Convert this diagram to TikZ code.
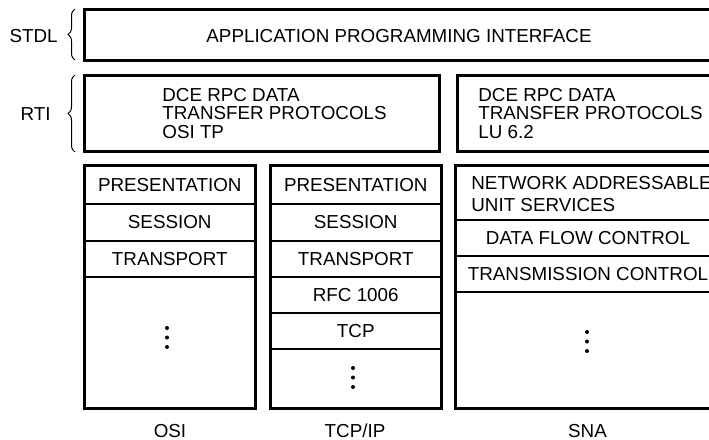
\documentclass[tikz,border=0pt]{standalone}
\usepackage{fontspec}
\setmainfont{Liberation Sans}
\usetikzlibrary{fit,decorations.pathreplacing}

\tikzset{
  frame/.style={draw, line width=1.5pt, inner sep=0pt, rectangle},
  layer/.style={draw, line width=1pt, inner sep=0pt, rectangle},
  txt/.style={font=\fontsize{9.4}{11}\selectfont, inner sep=0pt, text height=6.73pt, text depth=0pt},
  para/.style={font=\fontsize{9.4}{9.15}\selectfont, inner sep=0pt, align=left, anchor=west},
  dot/.style={circle, fill, inner sep=0pt, minimum size=2pt},
  bracket/.style={decorate, decoration={brace, amplitude=3.5pt}, line width=0.5pt}
}

\begin{document}
\begin{tikzpicture}[x=0.5pt, y=-0.5pt]
\clip (0,0) rectangle (709,440);

% top layers
\node[frame, fit={(84.5,9.5)(718,60)}] (api) {};
\node[txt] (apitxt) at (399,36) {APPLICATION PROGRAMMING INTERFACE};

\node[frame, fit={(84.5,75)(439,151.5)}] (rtiA) {};
\node[para] (rtiAtxt) at (162,113.5) {DCE RPC DATA\\TRANSFER PROTOCOLS\\OSI TP};
\node[frame, fit={(457,75)(720,151.5)}] (rtiB) {};
\node[para] (rtiBtxt) at (478,113.5) {DCE RPC DATA\\TRANSFER PROTOCOLS\\LU 6.2};

% braces and their labels
\coordinate (stdlLo) at (75,60);
\coordinate (stdlHi) at (75,9);
\coordinate (rtiLo) at (75,152);
\coordinate (rtiHi) at (75,75);
\draw[bracket] (stdlLo) -- (stdlHi);
\draw[bracket] (rtiLo) -- (rtiHi);
\node[txt, anchor=east] (stdl) at (58,36) {STDL};
\node[txt, anchor=east] (rti) at (51,113.5) {RTI};

% OSI stack
\node[layer, fit={(84.5,165.5)(255,204)}] (osiP) {};
\node[layer, fit={(84.5,204)(255,240.5)}] (osiS) {};
\node[layer, fit={(84.5,240.5)(255,277)}] (osiT) {};
\node[frame, fit={(84.5,165.5)(255,408.5)}] (osi) {};
\node[txt] at (osiP.center) {PRESENTATION};
\node[txt] at (osiS.center) {SESSION};
\node[txt] at (osiT.center) {TRANSPORT};
\node[dot] (osiD1) at (167,328) {};
\node[dot] (osiD2) at (167,337.5) {};
\node[dot] (osiD3) at (167,347) {};
\node[txt] (osiname) at (170,431) {OSI};

% TCP/IP stack
\node[layer, fit={(270,165.5)(441.5,204)}] (tcpP) {};
\node[layer, fit={(270,204)(441.5,240.5)}] (tcpS) {};
\node[layer, fit={(270,240.5)(441.5,277)}] (tcpT) {};
\node[layer, fit={(270,277)(441.5,313)}] (tcpR) {};
\node[layer, fit={(270,313)(441.5,349)}] (tcpC) {};
\node[frame, fit={(270,165.5)(441.5,408.5)}] (tcp) {};
\node[txt] at (tcpP.center) {PRESENTATION};
\node[txt] at (tcpS.center) {SESSION};
\node[txt] at (tcpT.center) {TRANSPORT};
\node[txt] at (tcpR.center) {RFC 1006};
\node[txt] at (tcpC.center) {TCP};
\node[dot] (tcpD1) at (353,368) {};
\node[dot] (tcpD2) at (353,377.5) {};
\node[dot] (tcpD3) at (353,387) {};
\node[txt] (tcpname) at (355,431) {TCP/IP};

% SNA stack
\node[layer, fit={(455.5,165.5)(720.5,220)}] (snaN) {};
\node[layer, fit={(455.5,220)(720.5,256)}] (snaD) {};
\node[layer, fit={(455.5,256)(720.5,292)}] (snaT) {};
\node[frame, fit={(455.5,165.5)(720.5,408.5)}] (sna) {};
\node[para, font=\fontsize{9.4}{11}\selectfont] (snaNtxt) at (471,194.5) {NETWORK ADDRESSABLE\\UNIT SERVICES};
\node[txt] at (snaD.center) {DATA FLOW CONTROL};
\node[txt] at (snaT.center) {TRANSMISSION CONTROL};
\node[dot] (snaD1) at (587,332) {};
\node[dot] (snaD2) at (587,341.5) {};
\node[dot] (snaD3) at (587,351) {};
\node[txt] (snaname) at (587.5,431) {SNA};
\end{tikzpicture}
\end{document}
